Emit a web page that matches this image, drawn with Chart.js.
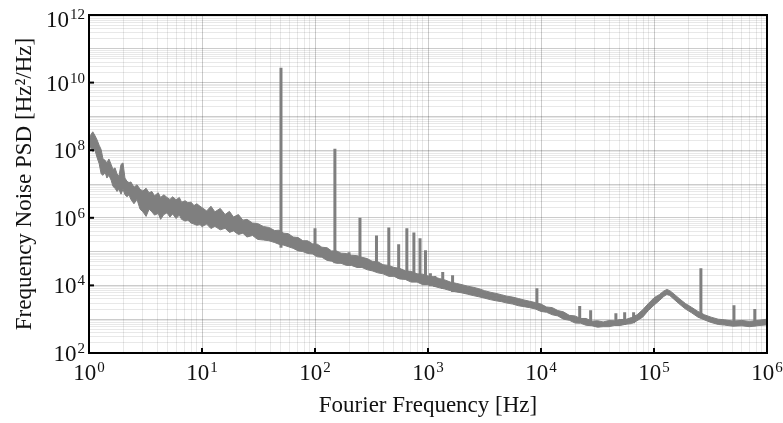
<!DOCTYPE html>
<html>
<head>
<meta charset="utf-8">
<title>Frequency Noise PSD</title>
<script src="https://cdn.jsdelivr.net/npm/chart.js@4/dist/chart.umd.min.js"></script>
<style>
  html, body { margin: 0; padding: 0; background: #fff; }
  canvas { display: block; }
</style>
</head>
<body>
<canvas id="psdChart" width="783" height="423"></canvas>
<script>
// Axis decades and their exponent labels
const xDecades = [1, 10, 100, 1e3, 1e4, 1e5, 1e6];
const xTickLabels = ["0", "1", "2", "3", "4", "5", "6"];
const yDecades = [1e2, 1e4, 1e6, 1e8, 1e10, 1e12];
const yTickLabels = ["2", "4", "6", "8", "10", "12"];
const yGridDecades = [1e2, 1e3, 1e4, 1e5, 1e6, 1e7, 1e8, 1e9, 1e10, 1e11, 1e12];

// Noise band: frequency [Hz], upper and lower edge of the trace [Hz^2/Hz]
const freqs = [
  1.00, 1.04, 1.08, 1.13, 1.18, 1.23, 1.28, 1.33, 1.39, 1.44,
  1.50, 1.57, 1.63, 1.70, 1.77, 1.84, 1.92, 2.00, 2.08, 2.17,
  2.26, 2.35, 2.50, 2.66, 2.83, 3.0, 3.2, 3.4, 3.6, 3.8,
  4.1, 4.3, 4.6, 4.9, 5.2, 5.5, 5.9, 6.3, 6.6, 7.1,
  7.5, 8.0, 8.5, 9.0, 9.6,
  10, 11, 12, 13, 14.5, 16, 17.5, 19, 21, 23,
  25, 28, 31, 35, 39, 44, 48, 53, 58, 64,
  71, 78, 86, 95, 105, 115, 128, 140, 155, 170,
  190, 210, 235, 260, 290, 320, 360, 400, 450, 500,
  560, 630, 710, 800, 900, 1000, 1120, 1260, 1410, 1580,
  1780, 2000, 2240, 2510, 2820, 3160, 3550, 4000, 4470, 5000,
  5620, 6310, 7080, 7940, 8910, 1.0e4, 1.12e4, 1.26e4, 1.41e4, 1.58e4,
  1.78e4, 2.0e4, 2.24e4, 2.51e4, 2.82e4, 3.16e4, 3.55e4, 3.98e4, 4.47e4, 5.01e4,
  5.62e4, 6.31e4, 7.08e4, 7.94e4, 8.91e4, 1.0e5, 1.12e5, 1.22e5, 1.3e5, 1.38e5,
  1.5e5, 1.7e5, 1.9e5, 2.15e5, 2.45e5, 2.8e5, 3.2e5, 3.7e5, 4.2e5, 5.0e5,
  6.0e5, 7.0e5, 8.5e5, 1.0e6
];
const psdUpper = [
  1.8e8, 2.9e8, 3.5e8, 2.7e8, 2.0e8, 1.4e8, 1.05e8, 5.5e7, 5.0e7, 4.2e7,
  5.5e7, 3.8e7, 2.7e7, 3.0e7, 2.0e7, 1.7e7, 3.8e7, 4.2e7, 1.5e7, 1.2e7,
  1.1e7, 1.15e7, 8.0e6, 9.5e6, 7.0e6, 6.2e6, 7.5e6, 5.5e6, 6.0e6, 4.5e6,
  5.5e6, 4.0e6, 4.8e6, 4.0e6, 3.5e6, 4.2e6, 3.4e6, 4.0e6, 2.9e6, 3.2e6,
  2.8e6, 2.9e6, 2.3e6, 2.6e6, 2.2e6,
  2.0e6, 1.6e6, 2.2e6, 1.5e6, 1.9e6, 1.25e6, 1.55e6, 1.05e6, 1.25e6, 8.5e5,
  9.0e5, 7.0e5, 6.8e5, 5.5e5, 5.2e5, 4.2e5, 4.3e5, 3.5e5, 3.4e5, 2.7e5,
  2.6e5, 2.1e5, 2.1e5, 1.7e5, 1.65e5, 1.35e5, 1.3e5, 1.05e5, 1.05e5, 9.0e4,
  8.8e4, 7.8e4, 7.6e4, 6.8e4, 6.2e4, 5.2e4, 5.0e4, 4.1e4, 3.9e4, 3.4e4,
  3.2e4, 2.7e4, 2.6e4, 2.2e4, 2.15e4, 1.9e4, 1.8e4, 1.6e4, 1.45e4, 1.25e4,
  1.15e4, 1.05e4, 9.5e3, 8.8e3, 8.0e3, 7.0e3, 6.3e3, 5.8e3, 5.3e3, 4.8e3,
  4.5e3, 4.1e3, 3.7e3, 3.4e3, 3.1e3, 2.8e3, 2.3e3, 2.2e3, 1.8e3, 1.65e3,
  1.3e3, 1.25e3, 1.05e3, 1.05e3, 8.7e2, 9.0e2, 8.3e2, 9.1e2, 9.0e2, 9.8e2,
  9.8e2, 1.12e3, 1.35e3, 1.9e3, 2.9e3, 4.3e3, 5.4e3, 6.8e3, 7.6e3, 7.0e3,
  5.6e3, 3.9e3, 2.9e3, 2.25e3, 1.7e3, 1.35e3, 1.15e3, 1.0e3, 9.6e2, 8.8e2,
  9.2e2, 8.6e2, 9.3e2, 1.0e3
];
const psdLower = [
  1.05e8, 1.2e8, 9.0e7, 1.0e8, 6.0e7, 4.0e7, 2.0e7, 1.8e7, 2.2e7, 1.5e7,
  1.8e7, 1.3e7, 8.5e6, 7.5e6, 6.0e6, 7.0e6, 5.0e6, 7.0e6, 4.8e6, 4.2e6,
  4.8e6, 3.5e6, 2.6e6, 3.5e6, 1.8e6, 1.5e6, 1.1e6, 1.8e6, 1.5e6, 1.2e6,
  1.35e6, 9.0e5, 1.25e6, 1.4e6, 1.05e6, 1.3e6, 9.5e5, 1.2e6, 9.0e5, 8.0e5,
  8.5e5, 7.0e5, 6.5e5, 6.0e5, 6.3e5,
  5.5e5, 6.5e5, 4.8e5, 5.6e5, 4.4e5, 4.9e5, 3.7e5, 4.1e5, 3.2e5, 3.5e5,
  2.7e5, 3.0e5, 2.3e5, 2.2e5, 2.1e5, 1.85e5, 1.65e5, 1.55e5, 1.4e5, 1.25e5,
  1.05e5, 1.0e5, 8.8e4, 8.5e4, 7.0e4, 6.8e4, 5.5e4, 5.2e4, 4.5e4, 4.5e4,
  3.9e4, 3.9e4, 3.4e4, 3.4e4, 2.9e4, 2.7e4, 2.35e4, 2.2e4, 1.85e4, 1.85e4,
  1.55e4, 1.5e4, 1.25e4, 1.25e4, 1.05e4, 1.05e4, 9.5e3, 8.5e3, 7.8e3, 7.0e3,
  6.4e3, 6.0e3, 5.5e3, 5.0e3, 4.6e3, 4.2e3, 3.8e3, 3.5e3, 3.3e3, 3.0e3,
  2.8e3, 2.5e3, 2.35e3, 2.2e3, 2.0e3, 1.7e3, 1.6e3, 1.35e3, 1.25e3, 1.0e3,
  9.3e2, 7.7e2, 7.6e2, 6.6e2, 6.4e2, 5.8e2, 6.0e2, 6.0e2, 6.5e2, 6.5e2,
  7.1e2, 7.4e2, 9.0e2, 1.15e3, 1.8e3, 2.6e3, 3.6e3, 4.7e3, 5.4e3, 5.0e3,
  3.9e3, 2.7e3, 2.0e3, 1.55e3, 1.15e3, 9.5e2, 8.0e2, 7.0e2, 6.7e2, 6.2e2,
  6.4e2, 6.0e2, 6.5e2, 6.8e2
];

// Discrete spurs: frequency, top of the spur, foot of the spur
const spikeFreqs = [50, 100, 150, 200, 250, 350, 450, 550, 650, 750, 850, 950,
  1050, 1150, 1350, 1650, 9200, 2.2e4, 2.75e4, 4.6e4, 5.5e4, 6.6e4, 2.6e5, 5.1e5, 7.8e5];
const spikeTops = [2.75e10, 4.9e5, 1.1e8, 9.5e4, 1.0e6, 3.0e5, 5.2e5, 1.65e5, 4.9e5, 3.7e5, 2.5e5, 1.1e5,
  2.3e4, 1.9e4, 2.5e4, 2.0e4, 8.3e3, 2.45e3, 1.85e3, 1.5e3, 1.6e3, 1.6e3, 3.2e4, 2.6e3, 2.0e3];
const spikeBases = [1.3e5, 8.0e4, 4.5e4, 4.0e4, 3.3e4, 2.5e4, 1.9e4, 1.6e4, 1.5e4, 1.3e4, 1.2e4, 1.05e4,
  9.5e3, 9.0e3, 7.8e3, 6.4e3, 2.1e3, 8.0e2, 6.5e2, 6.3e2, 6.7e2, 7.6e2, 1.1e3, 6.3e2, 6.2e2];

// Styling
const TRACE_COLOR = "#7f7f7f";
const TEXT_COLOR = "#111";
const LABEL_FONT = '23px "Liberation Serif", "Times New Roman", serif';
const EXP_FONT = '15px "Liberation Serif", "Times New Roman", serif';
const TITLE_FONT = '23px "Liberation Serif", "Times New Roman", serif';

// Build point lists for the datasets
const upperPoints = freqs.map((f, i) => ({ x: f, y: psdUpper[i] }));
const lowerPoints = freqs.map((f, i) => ({ x: f, y: psdLower[i] }));
const spikePoints = [];
spikeFreqs.forEach((f, i) => {
    spikePoints.push({ x: f, y: spikeBases[i] });
    spikePoints.push({ x: f, y: spikeTops[i] });
    spikePoints.push({ x: f, y: null });
});

// Grid positions: every 1..9 multiple inside each decade
function decadeGrid(decades) {
    const list = [];
    for (let i = 0; i < decades.length - 1; i++) {
        for (let m = 1; m <= 9; m++) {
            list.push({ value: m * decades[i], major: m === 1 });
        }
    }
    list.push({ value: decades[decades.length - 1], major: true });
    return list;
}

// Draws "10" with a raised exponent
function drawPower(ctx, exp, x, baseline, align) {
    ctx.font = LABEL_FONT;
    const w1 = ctx.measureText("10").width;
    ctx.font = EXP_FONT;
    const w2 = ctx.measureText(exp).width;
    const total = w1 + 1 + w2;
    const left = align === "right" ? x - total : x - total / 2;
    ctx.textAlign = "left";
    ctx.textBaseline = "alphabetic";
    ctx.font = LABEL_FONT;
    ctx.fillText("10", left, baseline);
    ctx.font = EXP_FONT;
    ctx.fillText(exp, left + w1 + 1, baseline - 8);
}

// Frame, inward ticks, tick labels and axis titles
const framePlugin = {
    id: "frame",
    afterDraw(chart) {
        const { ctx, chartArea: a, scales: { x, y } } = chart;
        ctx.save();
        ctx.strokeStyle = "#000";
        ctx.lineWidth = 2;

        xDecades.forEach(v => {
            const px = x.getPixelForValue(v);
            ctx.beginPath();
            ctx.moveTo(px, a.bottom);
            ctx.lineTo(px, a.bottom - 5);
            ctx.stroke();
        });
        yDecades.forEach(v => {
            const py = y.getPixelForValue(v);
            ctx.beginPath();
            ctx.moveTo(a.left, py);
            ctx.lineTo(a.left + 5, py);
            ctx.stroke();
        });
        ctx.strokeRect(a.left, a.top, a.right - a.left, a.bottom - a.top);

        ctx.fillStyle = TEXT_COLOR;
        xDecades.forEach((v, i) => {
            drawPower(ctx, xTickLabels[i], x.getPixelForValue(v), a.bottom + 27, "center");
        });
        yDecades.forEach((v, i) => {
            const base = Math.max(y.getPixelForValue(v) + 8, 27);
            drawPower(ctx, yTickLabels[i], a.left - 4, base, "right");
        });

        ctx.font = TITLE_FONT;
        ctx.textAlign = "center";
        ctx.textBaseline = "alphabetic";
        ctx.fillText("Fourier Frequency [Hz]", (a.left + a.right) / 2, a.bottom + 59);

        ctx.translate(31, (a.top + a.bottom) / 2);
        ctx.rotate(-Math.PI / 2);
        ctx.fillText("Frequency Noise PSD [Hz\u00B2/Hz]", 0, 0);
        ctx.restore();
    }
};

const gridColor = (ctx) => (ctx.tick && ctx.tick.major) ? "rgba(0,0,0,0.2)" : "rgba(0,0,0,0.09)";

const ctx = document.getElementById("psdChart").getContext("2d");
const chart = new Chart(ctx, {
    type: "line",
    data: {
        datasets: [
            {
                label: "upper",
                data: upperPoints,
                borderColor: TRACE_COLOR,
                backgroundColor: TRACE_COLOR,
                borderWidth: 1,
                pointRadius: 0,
                fill: "+1",
                tension: 0
            },
            {
                label: "lower",
                data: lowerPoints,
                borderColor: TRACE_COLOR,
                borderWidth: 1,
                pointRadius: 0,
                fill: false,
                tension: 0
            },
            {
                label: "spurs",
                data: spikePoints,
                borderColor: TRACE_COLOR,
                borderWidth: 3,
                pointRadius: 0,
                fill: false,
                spanGaps: false
            }
        ]
    },
    options: {
        responsive: false,
        animation: false,
        events: [],
        layout: { padding: { left: 89, right: 16, top: 15, bottom: 70 } },
        plugins: {
            legend: { display: false },
            tooltip: { enabled: false }
        },
        scales: {
            x: {
                type: "logarithmic",
                min: 1,
                max: 1e6,
                afterBuildTicks: (axis) => { axis.ticks = decadeGrid(xDecades); },
                ticks: { display: false },
                grid: { drawTicks: false, color: gridColor, lineWidth: 1 },
                border: { display: false }
            },
            y: {
                type: "logarithmic",
                min: 1e2,
                max: 1e12,
                afterBuildTicks: (axis) => { axis.ticks = decadeGrid(yGridDecades); },
                ticks: { display: false },
                grid: { drawTicks: false, color: gridColor, lineWidth: 1 },
                border: { display: false }
            }
        }
    },
    plugins: [framePlugin]
});
</script>
</body>
</html>
